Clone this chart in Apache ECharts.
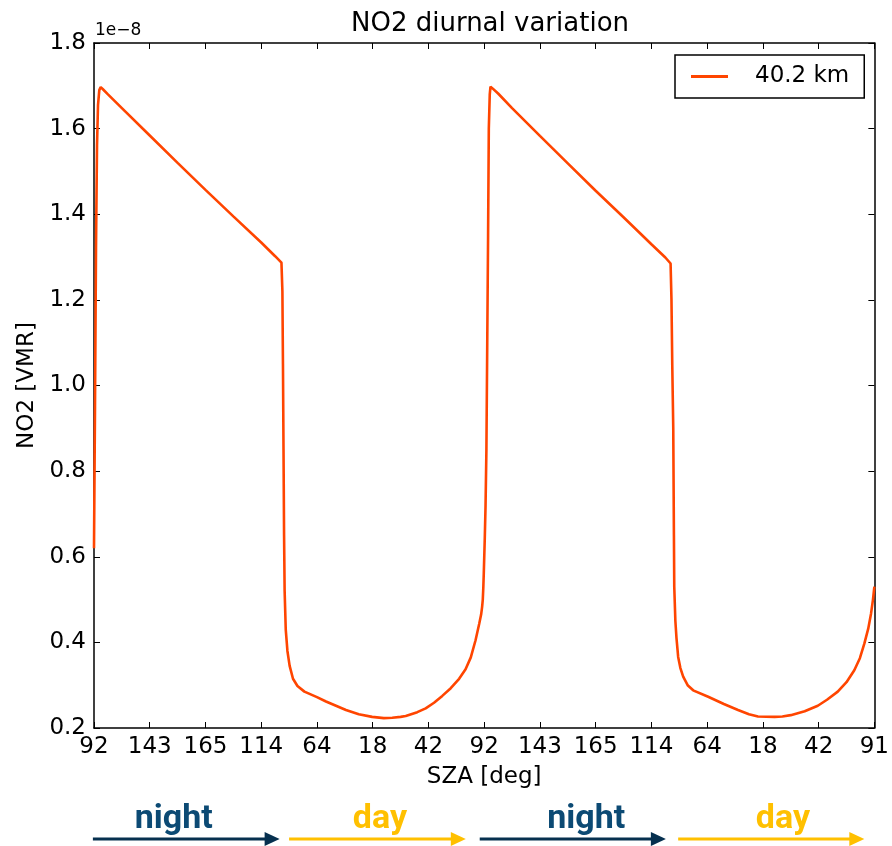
<!DOCTYPE html>
<html>
<head>
<meta charset="utf-8">
<title>NO2 diurnal variation</title>
<script src="https://cdn.jsdelivr.net/npm/echarts@6/dist/echarts.min.js"></script>
<style>
  html, body { margin: 0; padding: 0; background: #fff; }
  #chart { width: 892px; height: 846px; }
</style>
</head>
<body>
<div id="chart"></div>
<script>
// Tick labels along the time axis (solar zenith angle at each step)
const szaLabels = ['92', '143', '165', '114', '64', '18', '42', '92', '143', '165', '114', '64', '18', '42', '91'];

// Position along the time axis (tick index units)
const step = [
  0, 0.018, 0.036, 0.054, 0.072, 0.095, 0.12, 0.16, 0.25, 0.5,
  1.0, 1.5, 2.0, 2.5, 3.0, 3.25, 3.363, 3.38, 3.39, 3.40,
  3.41, 3.42, 3.44, 3.47, 3.51, 3.57, 3.65, 3.775, 4.0, 4.162,
  4.52, 4.75, 4.99, 5.2, 5.35, 5.5, 5.593, 5.8, 5.95, 6.1,
  6.248, 6.4, 6.55, 6.666, 6.76, 6.845, 6.91, 6.945, 6.963, 6.975,
  6.985, 6.993, 7.01, 7.024, 7.04, 7.055, 7.07, 7.083, 7.1, 7.113,
  7.15, 7.25, 7.5, 8.0, 8.5, 9.0, 9.5, 10.0, 10.25, 10.344,
  10.36, 10.374, 10.392, 10.404, 10.41, 10.43, 10.45, 10.48, 10.52, 10.57,
  10.65, 10.749, 11.018, 11.3, 11.554, 11.75, 11.912, 12.21, 12.35, 12.5,
  12.75, 12.985, 13.15, 13.343, 13.5, 13.64, 13.74, 13.82, 13.89, 13.94,
  13.975, 14.0
];

// NO2 volume mixing ratio at 40.2 km, in units of 1e-8
const no2 = [
  0.62, 0.95, 1.32, 1.56, 1.655, 1.69, 1.697, 1.692, 1.680, 1.648,
  1.584, 1.520, 1.457, 1.395, 1.334, 1.302, 1.287, 1.22, 1.05, 0.85,
  0.65, 0.52, 0.43, 0.38, 0.345, 0.315, 0.298, 0.285, 0.272, 0.262,
  0.242, 0.232, 0.226, 0.223, 0.224, 0.226, 0.228, 0.237, 0.246, 0.259,
  0.275, 0.293, 0.315, 0.337, 0.365, 0.405, 0.443, 0.465, 0.483, 0.50,
  0.53, 0.562, 0.64, 0.717, 0.85, 1.1, 1.35, 1.6, 1.68, 1.698,
  1.694, 1.682, 1.648, 1.583, 1.519, 1.455, 1.393, 1.330, 1.299, 1.285,
  1.2, 1.05, 0.90, 0.65, 0.53, 0.45, 0.41, 0.366, 0.34, 0.32,
  0.30, 0.288, 0.273, 0.256, 0.242, 0.232, 0.227, 0.226, 0.227, 0.230,
  0.239, 0.252, 0.266, 0.285, 0.307, 0.335, 0.363, 0.397, 0.432, 0.467,
  0.50, 0.53
];

// Night/day phase markers under the axis (start, end, label centre in tick units)
const phaseNames = ['night', 'day', 'night', 'day'];
const phaseStart = [-0.02, 3.5, 6.92, 10.48];
const phaseEnd = [3.33, 6.67, 10.26, 13.82];
const phaseLabelAt = [1.43, 5.13, 8.83, 12.36];
const phaseColors = { night: { text: '#0c4a74', arrow: '#06304f' }, day: { text: '#ffc000', arrow: '#ffc000' } };

const seriesName = '40.2 km';
const lineColor = '#ff4500';
const font = 'DejaVu Sans';

const chart = echarts.init(document.getElementById('chart'), null, { renderer: 'canvas' });

const axisCommon = {
  type: 'value',
  axisLine: { show: true, onZero: false, lineStyle: { color: '#000', width: 1.5 } },
  axisTick: { show: true, inside: true, length: 6, lineStyle: { color: '#000', width: 1 } },
  splitLine: { show: false }
};

chart.setOption({
  animation: false,
  backgroundColor: '#fff',
  title: {
    text: 'NO2 diurnal variation',
    left: 485,
    top: 6,
    textAlign: 'center',
    textStyle: { fontFamily: font, fontSize: 26, fontWeight: 'normal', color: '#000' }
  },
  grid: { left: 94, right: 15, top: 43, bottom: 118, containLabel: false },
  legend: {
    data: [{ name: seriesName, icon: 'rect' }],
    left: 675,
    top: 55,
    orient: 'horizontal',
    itemWidth: 37,
    itemHeight: 3,
    padding: [10, 15, 10, 16],
    borderColor: '#000',
    borderWidth: 1.5,
    borderRadius: 0,
    backgroundColor: '#fff',
    textStyle: { fontFamily: font, fontSize: 23, color: '#000', padding: [0, 0, 0, 22] }
  },
  xAxis: [
    Object.assign({}, axisCommon, {
      min: 0, max: 14, interval: 1, position: 'bottom',
      name: 'SZA [deg]', nameLocation: 'middle', nameGap: 38,
      nameTextStyle: { fontFamily: font, fontSize: 23, color: '#000' },
      axisLabel: {
        fontFamily: font, fontSize: 23, color: '#000', margin: 8,
        formatter: v => szaLabels[Math.round(v)]
      }
    }),
    Object.assign({}, axisCommon, {
      min: 0, max: 14, interval: 1, position: 'top',
      axisLabel: { show: false }
    })
  ],
  yAxis: [
    Object.assign({}, axisCommon, {
      min: 0.2, max: 1.8, interval: 0.2, position: 'left',
      name: 'NO2 [VMR]', nameLocation: 'middle', nameGap: 55, nameRotate: 90,
      nameTextStyle: { fontFamily: font, fontSize: 23, color: '#000' },
      axisLabel: {
        fontFamily: font, fontSize: 23, color: '#000', margin: 8,
        formatter: v => v.toFixed(1)
      }
    }),
    Object.assign({}, axisCommon, {
      min: 0.2, max: 1.8, interval: 0.2, position: 'right',
      axisLabel: { show: false }
    })
  ],
  series: [{
    name: seriesName,
    type: 'line',
    data: step.map((s, i) => [s, no2[i]]),
    showSymbol: false,
    symbol: 'none',
    smooth: false,
    clip: true,
    lineStyle: { color: lineColor, width: 2.6 },
    itemStyle: { color: lineColor }
  }]
});

// Offset label for the value axis and the night/day arrows under the plot
const graphics = [{
  type: 'text',
  style: { x: 95, y: 31, text: '1e\u22128', font: '17px "DejaVu Sans"', fill: '#000', verticalAlign: 'middle' }
}];

const arrowY = 839;
phaseNames.forEach((name, i) => {
  const x0 = chart.convertToPixel({ xAxisIndex: 0 }, phaseStart[i]);
  const x1 = chart.convertToPixel({ xAxisIndex: 0 }, phaseEnd[i]);
  const xc = chart.convertToPixel({ xAxisIndex: 0 }, phaseLabelAt[i]);
  const c = phaseColors[name];
  graphics.push({
    type: 'line',
    shape: { x1: x0, y1: arrowY, x2: x1 - 12, y2: arrowY },
    style: { stroke: c.arrow, lineWidth: 3 }
  });
  graphics.push({
    type: 'polygon',
    shape: { points: [[x1 - 15, arrowY - 7], [x1, arrowY], [x1 - 15, arrowY + 7]] },
    style: { fill: c.arrow }
  });
  graphics.push({
    type: 'text',
    style: {
      x: xc, y: 819, text: name, align: 'center', verticalAlign: 'middle',
      font: 'bold 34px Roboto', fill: c.text
    }
  });
});

chart.setOption({ graphic: graphics });
</script>
</body>
</html>
